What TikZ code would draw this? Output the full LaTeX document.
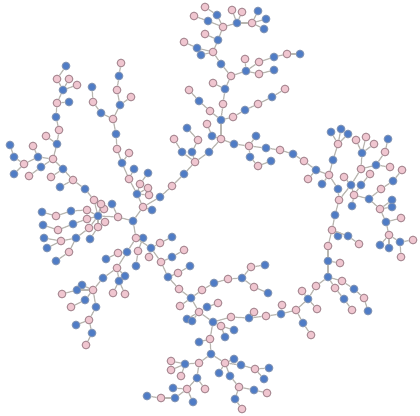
\documentclass[tikz,border=0pt]{standalone}
\definecolor{bluefill}{HTML}{4F7CC6}
\definecolor{blueline}{HTML}{7F93B5}
\definecolor{pinkfill}{HTML}{F0C6D0}
\definecolor{pinkline}{HTML}{A5858F}
\definecolor{edgegray}{HTML}{B8B6B0}
\tikzset{
  bluenode/.style={circle, fill=bluefill, draw=blueline, line width=0.9pt, minimum size=7.8pt, inner sep=0pt},
  pinknode/.style={circle, fill=pinkfill, draw=pinkline, line width=0.9pt, minimum size=7.8pt, inner sep=0pt},
  treeedge/.style={draw=edgegray, line width=1.2pt}
}
\begin{document}
\begin{tikzpicture}[x=1pt,y=-1pt]
\useasboundingbox (0,0) rectangle (420,415);
% blue vertices
\foreach \name/\x/\y in {
  b1/217/15,b2/208/21,b3/237/23,b4/258/11,b5/266/19,b6/264/29,b7/218/40,b8/197/48,b9/201/55,b10/221/64,
  b11/246/71,b12/274/57,b13/300/54,b14/274/70,b15/225/89,b16/221/120,b17/199/101,b18/245/110,b19/272/97,
  b20/212/136,b21/187/128,b22/192/152,b23/182/152,b24/209/152,b25/234/144,b26/256/136,b27/266/148,b28/293/154,
  b29/250/157,b30/271/161,b31/316/170,b32/322/184,b33/333/160,b34/331/132,b35/341/129,b36/348/134,b37/338/189,
  b38/335/215,b39/351/185,b40/362/153,b41/376/165,b42/388/139,b43/361/185,b44/352/206,b45/369/199,b46/393/181,
  b47/392/200,b48/392/207,b49/386/222,b50/380/245,b51/389/248,b52/400/242,b53/338/236,b54/348/236,b55/328/261,
  b56/328/277,b57/308/299,b58/303/323,b59/354/289,b60/368/311,b61/344/299,b62/281/314,b63/249/318,b64/213/322,
  b65/234/330,b66/225/337,b67/199/342,b68/211/354,b69/185/364,b70/197/378,b71/173/388,b72/175/398,b73/193/402,
  b74/147/396,b75/234/359,b76/241/365,b77/269/368,b78/264/379,b79/219/373,b80/230/376,b81/254/390,b82/235/399,
  b83/187/319,b84/192/321,b85/207/307,b86/191/298,b87/214/283,b88/242/278,b89/265/265,b90/268/293,b91/168/277,
  b92/190/266,b93/172/257,b94/151/248,b95/172/237,b96/143/238,b97/136/266,b98/127/252,b99/106/259,b100/125/276,
  b101/103/278,b102/119/281,b103/82/285,b104/77/290,b105/85/300,b106/96/307,b107/76/325,b108/92/333,b109/133/221,
  b110/152/210,b111/160/197,b112/184/174,b113/137/194,b114/148/173,b115/134/169,b116/122/163,b117/116/134,
  b118/120/105,b119/119/76,b120/101/113,b121/92/87,b122/112/204,b123/98/216,b124/85/189,b125/60/187,b126/63/169,
  b127/57/144,b128/56/117,b129/69/102,b130/63/90,b131/66/66,b132/41/167,b133/38/157,b134/14/157,b135/10/145,
  b136/14/174,b137/71/211,b138/42/212,b139/73/224,b140/43/225,b141/76/238,b142/44/238,b143/47/248,b144/56/261,
  b145/90/239} {
  \node [bluenode] (\name) at (\x,\y) {};
}
% pink vertices
\foreach \name/\x/\y in {
  p1/205/7,p2/194/16,p3/223/27,p4/232/10,p5/242/12,p6/252/23,p7/205/34,p8/213/52,p9/184/42,p10/231/76,
  p11/245/59,p12/259/62,p13/287/54,p14/259/74,p15/213/83,p16/223/104,p17/210/111,p18/189/90,p19/233/117,
  p20/258/104,p21/285/89,p22/221/139,p23/207/124,p24/198/140,p25/174/139,p26/195/162,p27/249/146,p28/280/150,
  p29/304/161,p30/258/166,p31/329/175,p32/308/179,p33/338/144,p34/339/200,p35/332/230,p36/344/177,p37/361/169,
  p38/356/140,p39/366/137,p40/374/144,p41/385/152,p42/390/167,p43/354/195,p44/370/174,p45/381/189,p46/402/170,
  p47/380/209,p48/401/218,p49/389/235,p50/413/240,p51/401/257,p52/359/244,p53/328/246,p54/340/263,p55/316/286,
  p56/302/291,p57/317/309,p58/296/310,p59/311/335,p60/342/281,p61/364/298,p62/335/288,p63/352/310,p64/282/305,
  p65/266/316,p66/254/312,p67/231/317,p68/221/326,p69/210/339,p70/199/363,p71/225/363,p72/171/361,p73/171/370,
  p74/181/376,p75/187/389,p76/205/389,p77/161/398,p78/255/369,p79/239/387,p80/267/393,p81/242/409,p82/199/312,
  p83/218/303,p84/180/306,p85/179/289,p86/202/290,p87/228/279,p88/251/267,p89/254/287,p90/178/273,p91/161/262,
  p92/184/250,p93/149/257,p94/160/243,p95/136/238,p96/138/251,p97/118/253,p98/117/268,p99/113/293,p100/125/294,
  p101/93/290,p102/62/294,p103/71/307,p104/89/320,p105/86/345,p106/143/207,p107/172/186,p108/149/195,p109/148/188,
  p110/140/184,p111/129/179,p112/129/153,p113/117/149,p114/113/119,p115/131/97,p116/117/90,p117/121/63,p118/93/102,
  p119/118/217,p120/105/222,p121/104/209,p122/101/204,p123/94/200,p124/73/180,p125/51/177,p126/53/159,p127/59/130,
  p128/46/136,p129/57/103,p130/57/79,p131/69/79,p132/77/85,p133/29/176,p134/33/146,p135/24/164,p136/87/210,
  p137/56/216,p138/87/219,p139/58/230,p140/89/228,p141/61/241,p142/69/252,p143/98/227} {
  \node [pinknode] (\name) at (\x,\y) {};
}
% edges
\foreach \a/\b in {
  p1/b1,b1/p3,p2/b2,b2/p3,p3/b3,b3/p4,b3/p5,b3/p6,p6/b4,p6/b5,p6/b6,p3/b7,b7/p7,b7/p8,p8/b8,b8/p9,p8/b9,p8/b10,
  b10/p10,p10/b11,b11/p11,b11/p12,p12/b12,b12/p13,p13/b13,b11/p14,p14/b14,p10/b15,b15/p15,b15/p16,p16/b16,
  b16/p17,p17/b17,b17/p18,b16/p19,p19/b18,b18/p20,p20/b19,b19/p21,
  b16/p22,p23/b20,b20/p22,p22/b24,b24/p26,b21/p24,p24/b22,b22/p26,p25/b23,b23/p26,p22/b25,b25/p27,p27/b26,
  p27/b27,b27/p28,p28/b28,b28/p29,p27/b29,b29/p30,p30/b30,
  p29/b31,b31/p32,b31/p31,p31/b32,p31/b33,b33/p33,p33/b34,p33/b35,p33/b36,p31/b37,b37/p34,p34/b38,b38/p35,
  p34/b39,b39/p36,b39/p37,p37/b40,b40/p38,b40/p39,b40/p40,p37/b41,b41/p41,p41/b42,b41/p42,b39/p43,p43/b43,
  b43/p44,p43/b44,p43/b45,b45/p45,p45/b46,b46/p46,b45/p47,p47/b47,p47/b48,p47/b49,b49/p48,b49/p49,p49/b50,
  p49/b51,p49/b52,b52/p50,b52/p51,
  p35/b53,p35/b54,b54/p52,p35/p53,p53/b55,b55/p54,b55/b56,b56/p55,p55/b57,b57/p56,b57/p57,b57/p58,p58/b58,
  b58/p59,p58/b62,b62/p64,b62/p65,p65/b63,b63/p66,b63/p67,p67/b64,b56/p60,p60/b59,b59/p61,p61/b60,b56/p62,
  p62/b61,b61/p63,
  b64/p68,p68/b65,p68/b66,b64/p69,p69/b67,p69/b68,b68/p70,b68/p71,p70/b69,b69/p72,b69/p73,b69/p74,p70/b70,
  b70/p75,b70/p76,p75/b71,p75/b72,p75/b73,b72/p77,p77/b74,p71/b75,p71/b76,p71/b79,p71/b80,b76/p78,p78/b77,
  p78/b78,b80/p79,p79/b81,b81/p80,p79/b82,b82/p81,
  b64/p82,p82/b83,p82/b84,p82/b85,b85/p83,p82/b86,b86/p84,b86/p85,b86/p86,p86/b87,b87/p87,p87/b88,b88/p88,
  p88/b89,b88/p89,p89/b90,
  p85/b91,b91/p90,p90/b92,b91/p91,p91/b93,b93/p92,p91/b94,b94/p93,b94/p94,p94/b95,p95/b94,p95/b96,b96/p96,
  p96/b97,p95/b98,b98/p97,p97/b99,b98/p98,p98/b100,p98/b101,p98/b102,b102/p99,b102/p100,b101/p101,p101/b103,
  p101/b104,b104/p102,p101/b105,b105/p103,p101/b106,b106/p104,p104/b107,p104/b108,b108/p105,
  b112/p26,p107/b112,b111/p107,p106/b111,p106/b110,b109/p106,b109/p95,p106/b113,b113/p108,b113/p109,b113/p110,
  p110/b114,b113/p111,p111/b115,p111/b116,b116/p112,b116/p113,p113/b117,b117/p114,p114/b118,b118/p115,b118/p116,
  p116/b119,b119/p117,p114/b120,b120/p118,p118/b121,
  b109/p119,p119/b122,p119/b123,b123/p120,b123/p121,b123/p122,b123/p123,p123/b124,b124/p124,p124/b125,p124/b126,
  b126/p125,b126/p126,p126/b127,b127/p127,b127/p128,p127/b128,b128/p129,p129/b129,p129/b130,b130/p130,p130/b131,
  b130/p131,b130/p132,p126/b132,b132/p133,p126/b133,b133/p134,b133/p135,p135/b134,b134/b135,p135/b136,
  b123/p136,p136/b137,b137/p137,p137/b138,b123/p138,p138/b139,b139/p139,p139/b140,b123/p140,p140/b141,b141/p141,
  p141/b142,p141/b143,b141/p142,p142/b144,b123/p143,p143/b145} {
  \draw [treeedge] (\a) -- (\b);
}
\end{tikzpicture}
\end{document}
